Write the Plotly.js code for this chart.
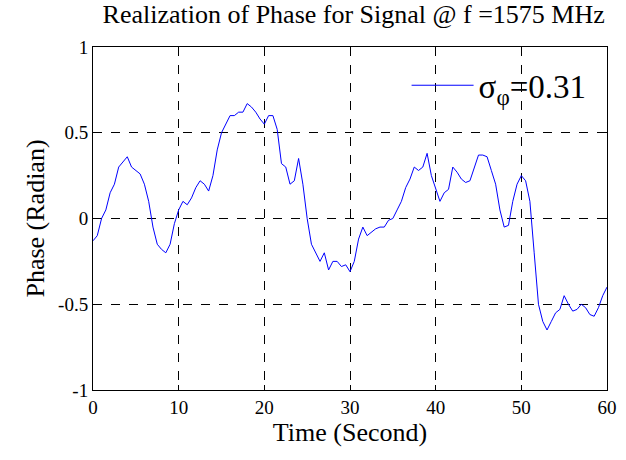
<!DOCTYPE html>
<html><head><script src="https://cdn.plot.ly/plotly-3.0.1.min.js"></script></head>
<body style="margin:0"><div id="g" style="width:626px;height:460px"></div>
<script>
const time = [];
for (let i = 0; i <= 120; i++) time.push(i * 0.5);
const phase = [-0.13,-0.1,0.0,0.05,0.15,0.2,0.3,0.33,0.36,0.3,0.28,0.26,0.2,0.1,-0.05,-0.15,-0.18,-0.2,-0.15,-0.03,
0.05,0.1,0.08,0.12,0.18,0.22,0.2,0.16,0.25,0.4,0.5,0.55,0.6,0.6,0.62,0.62,0.67,0.65,0.62,0.58,
0.55,0.6,0.6,0.52,0.32,0.3,0.2,0.22,0.35,0.2,0.0,-0.15,-0.2,-0.25,-0.2,-0.3,-0.25,-0.25,-0.28,-0.27,
-0.31,-0.25,-0.12,-0.05,-0.1,-0.08,-0.06,-0.05,-0.05,-0.01,0.0,0.05,0.1,0.18,0.23,0.3,0.28,0.3,0.38,0.25,
0.18,0.1,0.15,0.17,0.3,0.27,0.23,0.21,0.22,0.3,0.37,0.37,0.36,0.28,0.2,0.05,-0.05,-0.04,0.1,0.2,
0.25,0.22,0.1,-0.2,-0.5,-0.6,-0.65,-0.6,-0.55,-0.53,-0.45,-0.5,-0.54,-0.53,-0.5,-0.52,-0.56,-0.57,-0.52,-0.45,-0.4];
const F = 'Liberation Serif, Times New Roman, serif';
const ax = {showline:true, mirror:'ticks', linecolor:'#000', linewidth:1, ticks:'inside', ticklen:5, tickcolor:'#000',
  showgrid:true, gridcolor:'#000', griddash:'dash', gridwidth:0.8, zeroline:false, tickfont:{family:F, size:19}};
Plotly.newPlot('g', [{x:time, y:phase, mode:'lines', line:{color:'#0000ff', width:1}, name:'σ<sub>φ</sub>=0.31'}], {
  font:{family:F, color:'#000'},
  margin:{l:93, r:19, t:47, b:70},
  paper_bgcolor:'#fff', plot_bgcolor:'#fff',
  title:{text:'Realization of Phase for Signal @ f =1575 MHz', font:{family:F, size:26}, x:0.565, xanchor:'center', y:0.99, yanchor:'top'},
  xaxis:Object.assign({}, ax, {range:[0,60], dtick:10, title:{text:'Time (Second)', font:{family:F, size:26}, standoff:4}}),
  yaxis:Object.assign({}, ax, {range:[-1,1], dtick:0.5, tickvals:[-1,-0.5,0,0.5,1], ticktext:['-1','-0.5','0','0.5','1'], title:{text:'Phase (Radian)', font:{family:F, size:26}, standoff:6}}),
  showlegend:true,
  legend:{x:0.97, y:0.97, xanchor:'right', yanchor:'top', bgcolor:'rgba(255,255,255,0)', font:{family:F, size:33}, itemwidth:62}
}, {displayModeBar:false});
</script></body></html>
